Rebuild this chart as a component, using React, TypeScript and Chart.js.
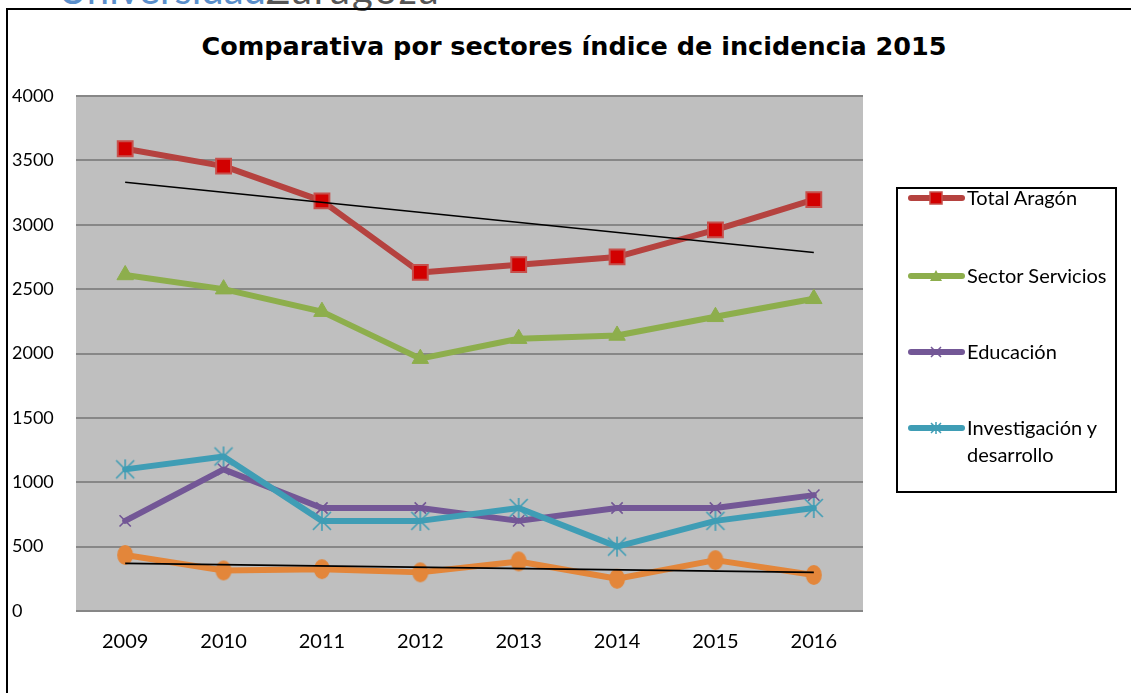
import React, { useEffect, useRef } from "react";
import { Chart, registerables } from "chart.js";

Chart.register(...registerables);

const years = ["2009", "2010", "2011", "2012", "2013", "2014", "2015", "2016"];
const totalAragon = [3590, 3455, 3185, 2630, 2690, 2750, 2960, 3195];
const sectorServicios = [2610, 2500, 2325, 1960, 2115, 2140, 2285, 2425];
const educacion = [700, 1100, 800, 800, 700, 800, 800, 900];
const investigacion = [1100, 1200, 700, 700, 800, 500, 700, 800];
const serie5 = [435, 315, 325, 300, 385, 250, 395, 280];
const totalTrend = [3330, null, null, null, null, null, null, 2785];
const serie5Trend = [370, null, null, null, null, null, null, 300];
const yTicks = [0, 500, 1000, 1500, 2000, 2500, 3000, 3500, 4000];

const TITLE = "Comparativa por sectores índice de incidencia 2015";

const C_RED = "#B5423F";
const C_RED_FILL = "#D20000";
const C_RED_EDGE = "#C6504C";
const C_GREEN = "#8DAE4C";
const C_PURPLE = "#735796";
const C_TEAL = "#3F9DB5";
const C_ORANGE = "#E3863A";

function makeAsterisk(color: string) {
  const c = document.createElement("canvas");
  c.width = 22;
  c.height = 22;
  const g = c.getContext("2d")!;
  g.strokeStyle = color;
  g.lineWidth = 1.6;
  g.beginPath();
  g.moveTo(2, 2); g.lineTo(20, 20);
  g.moveTo(20, 2); g.lineTo(2, 20);
  g.moveTo(11, 1); g.lineTo(11, 21);
  g.stroke();
  return c;
}

function makeEllipse(color: string) {
  const c = document.createElement("canvas");
  c.width = 18;
  c.height = 22;
  const g = c.getContext("2d")!;
  g.fillStyle = color;
  g.beginPath();
  g.ellipse(9, 11, 8, 10, 0, 0, Math.PI * 2);
  g.fill();
  return c;
}

const bgPlugin = {
  id: "plotBg",
  beforeDraw(chart: any) {
    const { ctx, chartArea } = chart;
    ctx.save();
    ctx.fillStyle = "#BFBFBF";
    ctx.fillRect(chartArea.left, chartArea.top, chartArea.right - chartArea.left, chartArea.bottom - chartArea.top);
    ctx.restore();
  },
};

const PLOT_LEFT = 76;
const PLOT_RIGHT = 863;
const PLOT_TOP = 96;
const PLOT_BOTTOM = 611;
const W = 1131;
const H = 693;

export default function App() {
  const ref = useRef<HTMLCanvasElement>(null);

  useEffect(() => {
    if (!ref.current) return;
    const asterisk = makeAsterisk(C_TEAL);
    const ellipse = makeEllipse(C_ORANGE);
    const common = {
      borderWidth: 6,
      tension: 0,
      borderCapStyle: "round" as const,
      borderJoinStyle: "round" as const,
      fill: false,
    };
    const chart = new Chart(ref.current, {
      type: "line",
      data: {
        labels: years,
        datasets: [
          {
            ...common,
            label: "Total Aragón",
            data: totalAragon,
            borderColor: C_RED,
            pointStyle: "rect",
            pointRadius: 10.5,
            pointBackgroundColor: C_RED_FILL,
            pointBorderColor: C_RED_EDGE,
            pointBorderWidth: 2,
            order: 5,
          },
          {
            ...common,
            label: "Sector Servicios",
            data: sectorServicios,
            borderColor: C_GREEN,
            pointStyle: "triangle",
            pointRadius: 9.5,
            pointBackgroundColor: C_GREEN,
            pointBorderColor: C_GREEN,
            pointBorderWidth: 1,
            order: 4,
          },
          {
            ...common,
            label: "Educación",
            data: educacion,
            borderColor: C_PURPLE,
            pointStyle: "crossRot",
            pointRadius: 8,
            pointBorderColor: C_PURPLE,
            pointBackgroundColor: C_PURPLE,
            pointBorderWidth: 1.6,
            order: 3,
          },
          {
            ...common,
            label: "Investigación y desarrollo",
            data: investigacion,
            borderColor: C_TEAL,
            pointStyle: asterisk as any,
            pointRadius: 10,
            order: 2,
          },
          {
            ...common,
            label: "Serie 5",
            data: serie5,
            borderColor: C_ORANGE,
            pointStyle: ellipse as any,
            pointRadius: 9,
            order: 1,
          },
          {
            label: "Tendencia Total Aragón",
            data: totalTrend,
            borderColor: "#000000",
            borderWidth: 1.6,
            pointRadius: 0,
            spanGaps: true,
            fill: false,
            order: 0,
          },
          {
            label: "Tendencia Serie 5",
            data: serie5Trend,
            borderColor: "#000000",
            borderWidth: 1.6,
            pointRadius: 0,
            spanGaps: true,
            fill: false,
            order: 0,
          },
        ],
      },
      options: {
        responsive: false,
        animation: false,
        events: [],
        layout: {
          padding: { left: 12, top: PLOT_TOP, right: W - PLOT_RIGHT, bottom: 0 },
        },
        plugins: {
          legend: { display: false },
          title: { display: false },
          tooltip: { enabled: false },
        },
        scales: {
          x: {
            type: "category",
            offset: true,
            grid: { display: false, drawTicks: false },
            border: { display: false },
            ticks: {
              color: "#000",
              font: { family: "Lato", size: 20 },
              padding: 19,
              maxRotation: 0,
              autoSkip: false,
            },
            afterFit(scale: any) {
              scale.height = H - PLOT_BOTTOM;
            },
          },
          y: {
            min: 0,
            max: 4000,
            afterBuildTicks(scale: any) {
              scale.ticks = yTicks.map((v) => ({ value: v }));
            },
            grid: { color: "#878787", lineWidth: 2, drawTicks: false },
            border: { display: false },
            ticks: {
              color: "#000",
              font: { family: "Lato", size: 18 },
              crossAlign: "far",
              padding: 8,
              callback: (v: any) => String(v),
            },
            afterFit(scale: any) {
              scale.width = PLOT_LEFT - 12;
            },
          },
        },
      },
      plugins: [bgPlugin],
    });
    return () => chart.destroy();
  }, []);

  const legendItems = [
    { label: ["Total Aragón"], y: 198, kind: "rect", color: C_RED },
    { label: ["Sector Servicios"], y: 276, kind: "tri", color: C_GREEN },
    { label: ["Educación"], y: 352, kind: "x", color: C_PURPLE },
    { label: ["Investigación y", "desarrollo"], y: 428, kind: "star", color: C_TEAL },
  ];

  const marker = (kind: string, color: string) => {
    const cx = 30;
    const cy = 10;
    if (kind === "rect")
      return <rect x={cx - 6} y={cy - 6} width={12} height={12} fill={C_RED_FILL} stroke={C_RED_EDGE} strokeWidth={1.5} />;
    if (kind === "tri")
      return <polygon points={`${cx - 6},${cy + 5} ${cx + 6},${cy + 5} ${cx},${cy - 6}`} fill={color} />;
    if (kind === "x")
      return (
        <path d={`M${cx - 5} ${cy - 5} L${cx + 5} ${cy + 5} M${cx + 5} ${cy - 5} L${cx - 5} ${cy + 5}`} stroke={color} strokeWidth={1.5} />
      );
    return (
      <path
        d={`M${cx - 5} ${cy - 5} L${cx + 5} ${cy + 5} M${cx + 5} ${cy - 5} L${cx - 5} ${cy + 5} M${cx} ${cy - 6} L${cx} ${cy + 6}`}
        stroke={color}
        strokeWidth={1.5}
      />
    );
  };

  return (
    <div
      style={{
        position: "fixed",
        left: 0,
        top: 0,
        width: W,
        height: H,
        background: "#fff",
        overflow: "hidden",
      }}
    >
      <div
        style={{
          position: "absolute",
          left: 58,
          top: -31.5,
          fontFamily: "Lato",
          fontSize: 40,
          lineHeight: "40px",
          whiteSpace: "nowrap",
        }}
      >
        <span style={{ color: "#5B8FCB" }}>Universidad</span>
        <span style={{ color: "#555555", letterSpacing: 2 }}>Zaragoza</span>
      </div>
      <div
        style={{
          position: "absolute",
          left: 6,
          top: 8,
          width: 1140,
          height: 720,
          border: "2px solid #000",
          boxSizing: "border-box",
        }}
      />
      <div
        style={{
          position: "absolute",
          left: 0,
          width: 1148,
          top: 31,
          textAlign: "center",
          fontFamily: "DejaVu Sans",
          fontWeight: "bold",
          fontSize: 25.5,
          lineHeight: "30px",
          color: "#000",
          whiteSpace: "nowrap",
        }}
      >
        {TITLE}
      </div>
      <canvas ref={ref} width={W} height={H} style={{ position: "absolute", left: 0, top: 0, width: W, height: H }} />
      <div
        style={{
          position: "absolute",
          left: 896,
          top: 187,
          width: 221,
          height: 306,
          border: "2px solid #000",
          boxSizing: "border-box",
          background: "#fff",
        }}
      />
      {legendItems.map((it) => (
        <div key={it.label[0]}>
          <svg
            width={60}
            height={20}
            style={{ position: "absolute", left: 906, top: it.y - 10 }}
          >
            <line x1={5} y1={10} x2={56} y2={10} stroke={it.color} strokeWidth={6} strokeLinecap="round" />
            {marker(it.kind, it.color)}
          </svg>
          <div
            style={{
              position: "absolute",
              left: 967,
              top: it.y - 14,
              fontFamily: "Lato",
              fontSize: 20,
              lineHeight: "27px",
              color: "#000",
              whiteSpace: "nowrap",
            }}
          >
            {it.label.map((l, i) => (
              <div key={i}>{l}</div>
            ))}
          </div>
        </div>
      ))}
    </div>
  );
}
